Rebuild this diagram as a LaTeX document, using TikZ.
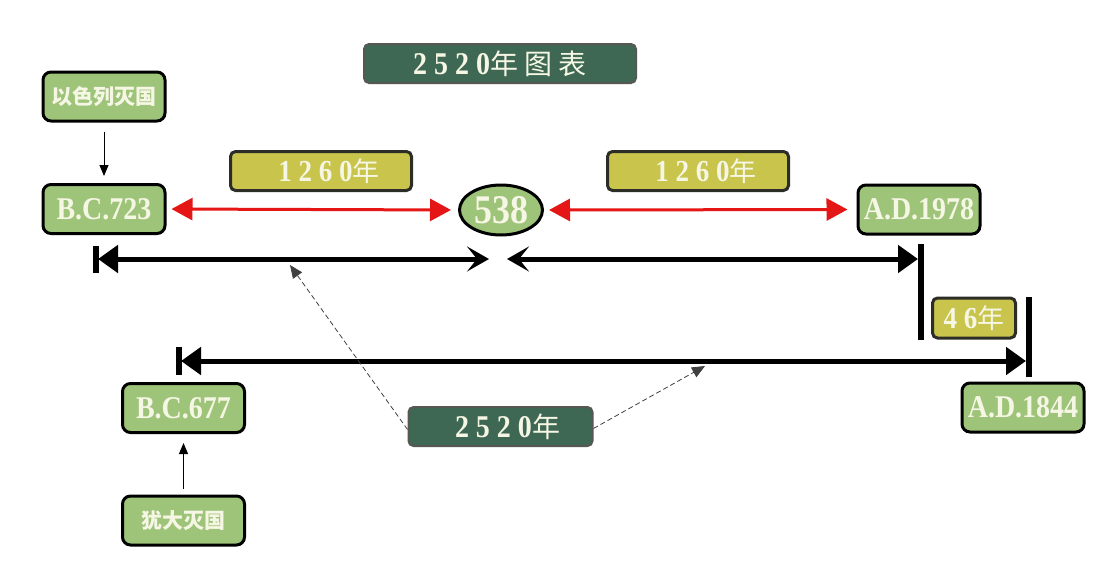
\documentclass[tikz,border=0pt]{standalone}
\usepackage{fontspec}
\usepackage{graphicx}
\setmainfont{Liberation Serif}
\newfontfamily\cjk{Noto Sans CJK SC}
\usetikzlibrary{arrows.meta,shapes.geometric}
\definecolor{lgreen}{RGB}{158,196,122}
\definecolor{dgreen}{RGB}{62,104,84}
\definecolor{olive}{RGB}{200,196,76}
\definecolor{cream}{RGB}{246,246,228}
\definecolor{bordergray}{RGB}{45,45,40}
\definecolor{arrred}{RGB}{228,22,22}
\newcommand{\tallt}[1]{\scalebox{1}[1.13]{#1}}
\tikzset{
  datebox/.style={draw=black, line width=3pt, rounded corners=8pt, fill=lgreen, text=cream,
    font=\bfseries\fontsize{28}{28}\selectfont, inner sep=0pt, minimum width=122pt, minimum height=49pt},
  cjkbox/.style={datebox, font=\cjk\bfseries\fontsize{21}{21}\selectfont},
  olivebox/.style={draw=bordergray, line width=3pt, rounded corners=5pt, fill=olive, text=cream,
    font=\bfseries\fontsize{27}{27}\selectfont, inner sep=0pt, minimum height=39pt},
  darkbox/.style={draw=bordergray!80, line width=2pt, rounded corners=5pt, fill=dgreen, text=cream,
    font=\bfseries\fontsize{28}{28}\selectfont, inner sep=0pt, minimum height=39pt},
  ovalnode/.style={ellipse, draw=black, line width=3pt, fill=lgreen, text=cream,
    font=\bfseries\fontsize{36}{36}\selectfont, inner sep=0pt, minimum width=83pt, minimum height=50pt},
  thinarrow/.style={draw=black, line width=1pt, -{Triangle[length=11pt,width=9pt]}},
  redarrow/.style={draw=arrred, line width=3pt, {Triangle[length=21pt,width=22pt]}-{Triangle[length=21pt,width=22pt]}},
  dasharrow/.style={draw=black!75, line width=0.8pt, dash pattern=on 5pt off 3pt, -{Triangle[length=13pt,width=11pt]}},
  timeline/.style={draw=black, line width=5pt},
  barline/.style={draw=black, line width=6pt},
}
\begin{document}
\begin{tikzpicture}[x=1pt,y=-1pt]
\useasboundingbox[fill=white] (0,0) rectangle (1117,587);

% nodes
\node[darkbox, minimum width=272pt] (title) at (500,63.5) {\tallt{2 5 2 0}{\cjk\mdseries 年 图 表}};
\node[cjkbox] (isr) at (104,96.5) {以色列灭国};
\node[datebox] (bc723) at (104,209) {\tallt{B.C.723}};
\node[olivebox, minimum width=181pt] (y1260a) at (321,171) {\hspace*{16pt}\tallt{1 2 6 0}{\cjk\mdseries 年}};
\node[ovalnode] (e538) at (501,210) {\tallt{538}};
\node[olivebox, minimum width=181pt] (y1260b) at (698,171) {\hspace*{16pt}\tallt{1 2 6 0}{\cjk\mdseries 年}};
\node[datebox] (ad1978) at (919,209.5) {\tallt{A.D.1978}};
\node[olivebox, minimum width=83pt, minimum height=40pt] (y46) at (974,318) {\tallt{4 6}{\cjk\mdseries 年}};
\node[datebox] (bc677) at (183.5,408) {\tallt{B.C.677}};
\node[cjkbox] (juda) at (183.5,520.5) {犹大灭国};
\node[datebox] (ad1844) at (1023,407.5) {\tallt{A.D.1844}};
\node[darkbox, minimum width=184pt] (y2520) at (500.5,426.5) {\hspace*{14pt}\tallt{2 5 2 0}{\cjk\mdseries 年}};

% thin arrows
\draw[thinarrow, shorten <=9pt, shorten >=7pt] (isr) -- (bc723);
\draw[thinarrow, shorten <=6pt, shorten >=9pt] (juda) -- (bc677);

% red arrows
\draw[redarrow, shorten <=5pt, shorten >=7pt] (bc723.east) -- (e538.west);
\draw[redarrow, shorten <=5pt, shorten >=9pt] (e538.east) -- (ad1978.west);

% timeline coordinates
\coordinate (b1t) at (96,246);   \coordinate (b1b) at (96,273);
\coordinate (b2t) at (921,244);  \coordinate (b2b) at (921,340);
\coordinate (b3t) at (179,347);  \coordinate (b3b) at (179,375);
\coordinate (b4t) at (1029,297); \coordinate (b4b) at (1029,377);
\coordinate (t1a) at (98,259);   \coordinate (t1b) at (489,259);
\coordinate (t2a) at (507,259);  \coordinate (t2b) at (918,259);
\coordinate (t3a) at (181,361);  \coordinate (t3b) at (1026,361);
\coordinate (dl) at (290,265);   \coordinate (dr) at (705,366);

\draw[barline] (b1t) -- (b1b);
\draw[barline] (b2t) -- (b2b);
\draw[barline] (b3t) -- (b3b);
\draw[barline] (b4t) -- (b4b);

\draw[timeline, {Triangle[length=20pt,width=27pt]}-{Stealth[length=22pt,width=25pt,inset=10pt]}] (t1a) -- (t1b);
\draw[timeline, {Stealth[length=22pt,width=25pt,inset=10pt]}-{Triangle[length=20pt,width=27pt]}] (t2a) -- (t2b);
\draw[timeline, {Triangle[length=20pt,width=27pt]}-{Triangle[length=20pt,width=27pt]}] (t3a) -- (t3b);

% dashed arrows
\draw[dasharrow] ([yshift=-3pt]y2520.west) -- (dl);
\draw[dasharrow] ([yshift=-2pt]y2520.east) -- (dr);
\end{tikzpicture}
\end{document}
